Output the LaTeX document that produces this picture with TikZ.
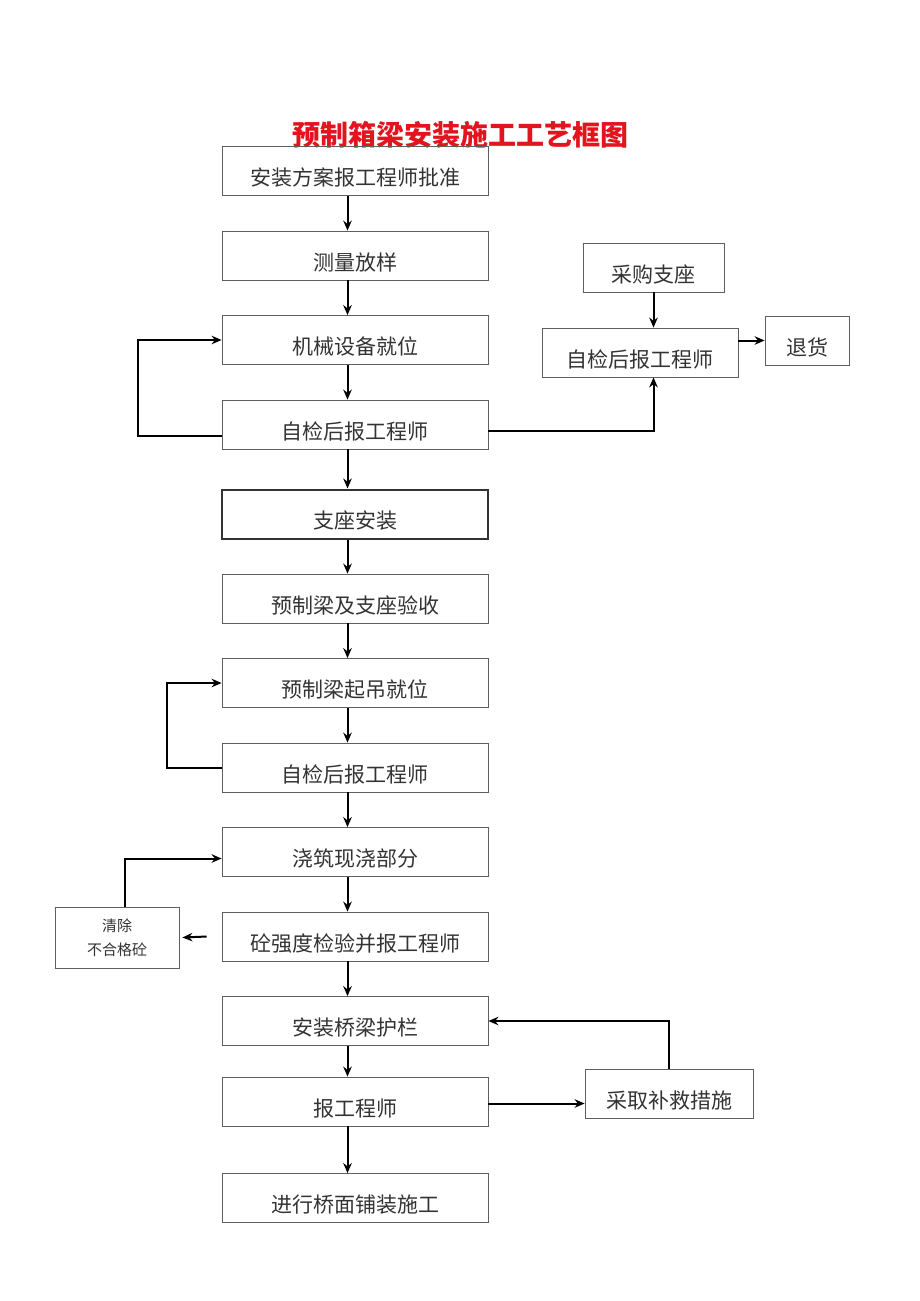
\documentclass[tikz,border=0pt]{standalone}
\usepackage{fontspec}
\setmainfont{Noto Sans CJK SC}
\usetikzlibrary{arrows.meta}
\definecolor{titlered}{RGB}{226,20,30}
\definecolor{boxgray}{RGB}{95,95,95}
\begin{document}
\begin{tikzpicture}[x=1pt, y=-1pt, node distance={84.5pt}, line width=2pt,
	box/.style = {draw=boxgray, line width=0.8pt, minimum width=266pt, minimum height=49pt, inner sep=0pt,
		font=\fontsize{21}{25}\selectfont, text=black!80, text height=29pt, text depth=0pt},
	side/.style = {box, minimum width=#1},
	>={Stealth[length=10pt, width=8.5pt]}]
		\useasboundingbox (0,0) rectangle (920,1301);
		\node[font=\fontsize{28}{32}\selectfont\bfseries, text=titlered] (title) at (460,135) {预制箱梁安装施工工艺框图};
		\node[box] (b1) at (355,171) {安装方案报工程师批准};
		\node[box] (b2) [below of=b1] {测量放样};
		\node[box] (b3) [below of=b2] {机械设备就位};
		\node[box] (b4) [below of=b3] {自检后报工程师};
		\node[box, line width=2pt, draw=black!80] (b5) [below of=b4, node distance=89.5pt] {支座安装};
		\node[box] (b6) [below of=b5] {预制梁及支座验收};
		\node[box] (b7) [below of=b6] {预制梁起吊就位};
		\node[box] (b8) [below of=b7] {自检后报工程师};
		\node[box] (b9) [below of=b8] {浇筑现浇部分};
		\node[box] (b10) [below of=b9] {砼强度检验并报工程师};
		\node[box] (b11) [below of=b10] {安装桥梁护栏};
		\node[box] (b12) [below of=b11, node distance=80.5pt] {报工程师};
		\node[box] (b13) [below of=b12, node distance=96.5pt] {进行桥面铺装施工};
		\node[side=141pt] (buy) at (653.5,267.5) {采购支座};
		\node[side=196pt] (chk) at (640,352.5) {自检后报工程师};
		\node[side=84pt] (ret) at (807,340.5) {退货};
		\node[draw=boxgray, line width=0.8pt, minimum width=124pt, minimum height=61pt, align=center,
			font=\fontsize{15}{24}\selectfont, text=black!80] (clr) at (117,937.5) {清除\\不合格砼};
		\node[side=168pt] (fix) at (669,1093.5) {采取补救措施};
		\coordinate (gap) at ([xshift=-15pt]b10.west);
		\draw[->] ([xshift=-7.5pt]b1.south) to ([xshift=-7.5pt]b2.north);
		\draw[->] ([xshift=-7.5pt]b2.south) to ([xshift=-7.5pt]b3.north);
		\draw[->] ([xshift=-7.5pt]b3.south) to ([xshift=-7.5pt]b4.north);
		\draw[->] ([xshift=-7.5pt]b4.south) to ([xshift=-7.5pt]b5.north);
		\draw[->] ([xshift=-7.5pt]b5.south) to ([xshift=-7.5pt]b6.north);
		\draw[->] ([xshift=-7.5pt]b6.south) to ([xshift=-7.5pt]b7.north);
		\draw[->] ([xshift=-7.5pt]b7.south) to ([xshift=-7.5pt]b8.north);
		\draw[->] ([xshift=-7.5pt]b8.south) to ([xshift=-7.5pt]b9.north);
		\draw[->] ([xshift=-7.5pt]b9.south) to ([xshift=-7.5pt]b10.north);
		\draw[->] ([xshift=-7.5pt]b10.south) to ([xshift=-7.5pt]b11.north);
		\draw[->] ([xshift=-7.5pt]b11.south) to ([xshift=-7.5pt]b12.north);
		\draw[->] ([xshift=-7.5pt]b12.south) to ([xshift=-7.5pt]b13.north);
		\draw[->] ([yshift=-11.5pt]b4.west) -- ++(-84,0) |- (b3.west);
		\draw[->] ([yshift=-6.5pt]b4.east) -| (buy.south |- chk.south);
		\draw[->] (buy.south) -- (buy.south |- chk.north);
		\draw[->] (chk.east |- ret.west) -- (ret.west);
		\draw[->] (b8.west) -- ++(-55,0) |- (b7.west);
		\draw[->] (gap) -- ([xshift=3pt]clr.east);
		\draw[->] ([xshift=8pt]clr.north) |- ([yshift=-6.5pt]b9.west);
		\draw[->] ([yshift=-2pt]b12.east) -- ([yshift=-2pt]b12.east -| fix.west);
		\draw[->] (fix.north) |- (b11.east);

	\end{tikzpicture}
\end{document}
